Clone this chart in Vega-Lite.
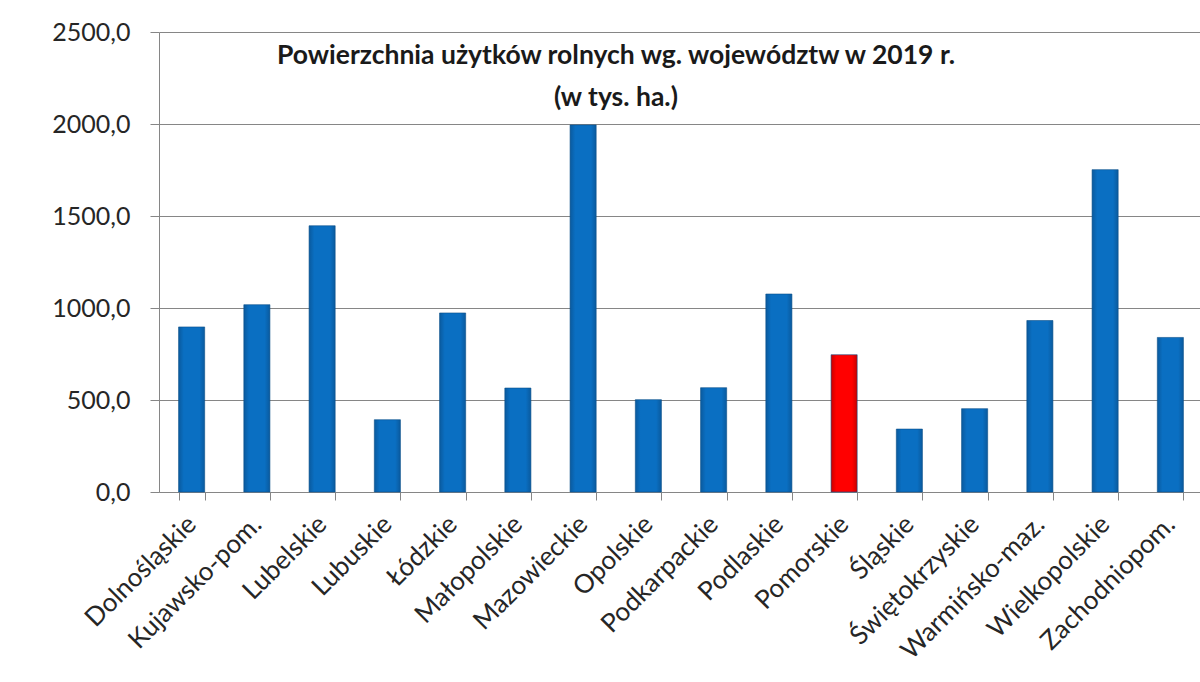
{
  "$schema": "https://vega.github.io/schema/vega-lite/v6.json",
  "autosize": "none",
  "width": 1044,
  "height": 460,
  "padding": {"left": 159, "top": 32, "right": 0, "bottom": 190},
  "background": "white",
  "title": {
    "text": ["Powierzchnia użytków rolnych wg. województw w 2019 r.", "(w tys. ha.)"],
    "anchor": "middle",
    "frame": "group",
    "baseline": "top",
    "offset": -25,
    "dy": 66,
    "dx": -65,
    "font": "Lato",
    "fontSize": 26.5,
    "fontWeight": "bold",
    "color": "#1a1a1a",
    "lineHeight": 42
  },
  "data": {
    "values": [
      {"woj": "Dolnośląskie", "ur": 897},
      {"woj": "Kujawsko-pom.", "ur": 1018},
      {"woj": "Lubelskie", "ur": 1447},
      {"woj": "Lubuskie", "ur": 393},
      {"woj": "Łódzkie", "ur": 973},
      {"woj": "Małopolskie", "ur": 565},
      {"woj": "Mazowieckie", "ur": 1995},
      {"woj": "Opolskie", "ur": 502},
      {"woj": "Podkarpackie", "ur": 567},
      {"woj": "Podlaskie", "ur": 1076},
      {"woj": "Pomorskie", "ur": 746},
      {"woj": "Śląskie", "ur": 342},
      {"woj": "Świętokrzyskie", "ur": 453},
      {"woj": "Warmińsko-maz.", "ur": 932},
      {"woj": "Wielkopolskie", "ur": 1752},
      {"woj": "Zachodniopom.", "ur": 840}
    ]
  },
  "mark": {"type": "bar", "stroke": "#0a4f8a", "strokeWidth": 0.6},
  "encoding": {
    "x": {
      "field": "woj",
      "type": "nominal",
      "sort": null,
      "scale": {"paddingInner": 0.6, "paddingOuter": 0.3},
      "axis": {
        "title": null,
        "labelAngle": -45,
        "labelAlign": "right",
        "labelBaseline": "middle",
        "labelPadding": 20,
        "labelFont": "Lato",
        "labelFontSize": 26,
        "labelColor": "#262626",
        "labelOverlap": false,
        "labelLimit": 0,
        "tickBand": "extent",
        "tickSize": 8,
        "tickColor": "#868686",
        "domainColor": "#868686",
        "grid": false
      }
    },
    "y": {
      "field": "ur",
      "type": "quantitative",
      "scale": {"domain": [0, 2500], "nice": false},
      "axis": {
        "title": null,
        "values": [0, 500, 1000, 1500, 2000, 2500],
        "labelExpr": "replace(format(datum.value, '.1f'), '.', ',')",
        "labelFont": "Lato",
        "labelFontSize": 25,
        "labelColor": "#262626",
        "labelPadding": 20,
        "tickSize": 9,
        "tickColor": "#868686",
        "domainColor": "#868686",
        "gridColor": "#868686",
        "gridOpacity": 1
      }
    },
    "color": {
      "condition": {
        "test": "datum.woj === 'Pomorskie'",
        "value": {"gradient": "linear", "x1": 0, "x2": 1, "y1": 0, "y2": 0,
          "stops": [{"offset": 0, "color": "#c80000"}, {"offset": 0.2, "color": "#ff0000"}, {"offset": 0.8, "color": "#ff0000"}, {"offset": 1, "color": "#c80000"}]}
      },
      "value": {"gradient": "linear", "x1": 0, "x2": 1, "y1": 0, "y2": 0,
        "stops": [{"offset": 0, "color": "#0a5a9e"}, {"offset": 0.2, "color": "#0a6fc2"}, {"offset": 0.8, "color": "#0a6fc2"}, {"offset": 1, "color": "#0a5a9e"}]}
    }
  },
  "config": {"view": {"stroke": null}}
}
